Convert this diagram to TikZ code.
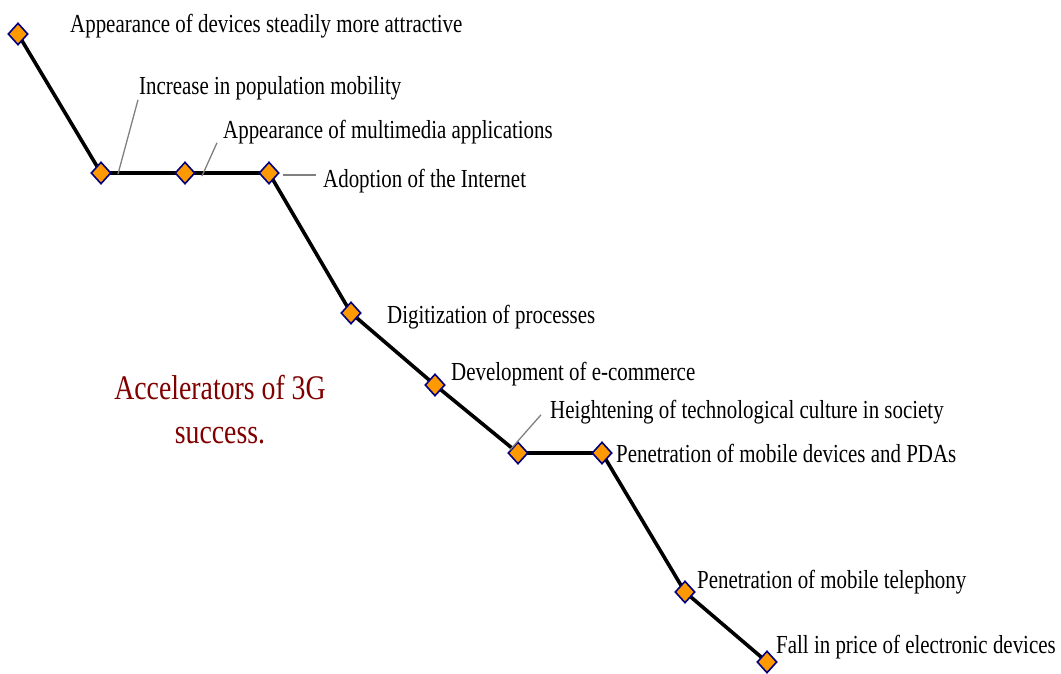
\documentclass[tikz,border=0pt]{standalone}
\usepackage{fontspec}
\setmainfont{Liberation Serif}[FakeStretch=0.805]
\usepackage{xcolor}
\usepackage{tikz}
\usetikzlibrary{shapes.geometric}

\definecolor{markfill}{RGB}{255,153,0}
\definecolor{markedge}{RGB}{0,0,128}
\definecolor{titlered}{RGB}{128,0,0}

\begin{document}
\begin{tikzpicture}[x=1pt, y=-1pt,
  marker/.style={diamond, draw=markedge, fill=markfill, line width=1.6pt,
    minimum width=20pt, minimum height=22pt, inner sep=0pt},
  lbl/.style={anchor=base west, inner sep=0pt, font=\fontsize{26}{30}\selectfont},
  leader/.style={draw=gray, line width=1.3pt}]
\useasboundingbox (0,0) rectangle (1061,673);

% points of the curve
\coordinate (p1) at (18,34);
\coordinate (p2) at (101,173);
\coordinate (p3) at (185,173);
\coordinate (p4) at (269,173);
\coordinate (p5) at (351,313);
\coordinate (p6) at (435,385);
\coordinate (p7) at (518,453);
\coordinate (p8) at (602,453);
\coordinate (p9) at (685,592);
\coordinate (p10) at (767,662);

\draw[line width=3.6pt] (p1) -- (p2) -- (p3) -- (p4) -- (p5) -- (p6) -- (p7)
  -- (p8) -- (p9) -- (p10);

\node[marker] (m1) at (p1) {};
\node[marker] (m2) at (p2) {};
\node[marker] (m3) at (p3) {};
\node[marker] (m4) at (p4) {};
\node[marker] (m5) at (p5) {};
\node[marker] (m6) at (p6) {};
\node[marker] (m7) at (p7) {};
\node[marker] (m8) at (p8) {};
\node[marker] (m9) at (p9) {};
\node[marker] (m10) at (p10) {};

% labels
\node[lbl] (l1) at (70,32) {Appearance of devices steadily more attractive};
\node[lbl] (l2) at (139,94) {Increase in population mobility};
\node[lbl] (l3) at (223,138) {Appearance of multimedia applications};
\node[lbl] (l4) at (323,187) {Adoption of the Internet};
\node[lbl] (l5) at (387,323) {Digitization of processes};
\node[lbl] (l6) at (451,380) {Development of e-commerce};
\node[lbl] (l7) at (550,418) {Heightening of technological culture in society};
\node[lbl] (l8) at (616,462) {Penetration of mobile devices and PDAs};
\node[lbl] (l9) at (697,588) {Penetration of mobile telephony};
\node[lbl] (l10) at (776,653) {Fall in price of electronic devices};

% leader lines
\coordinate (c2) at (118,174);
\coordinate (c3) at (202,176);
\coordinate (c4) at (283,175);
\coordinate (c7) at (510,450);
\draw[leader] (c2) -- ([xshift=-1pt]l2.south west);
\draw[leader] (c3) -- ([xshift=-6pt,yshift=1pt]l3.south west);
\draw[leader] (c4) -- ([xshift=-7pt]c4 -| l4.west);
\draw[leader] (c7) -- ([xshift=-9pt,yshift=9pt]l7.south west);

\node[text=titlered, align=center, font=\fontsize{34.5}{44}\selectfont]
  (title) at (220,410) {Accelerators of 3G\\success.};
\end{tikzpicture}
\end{document}
